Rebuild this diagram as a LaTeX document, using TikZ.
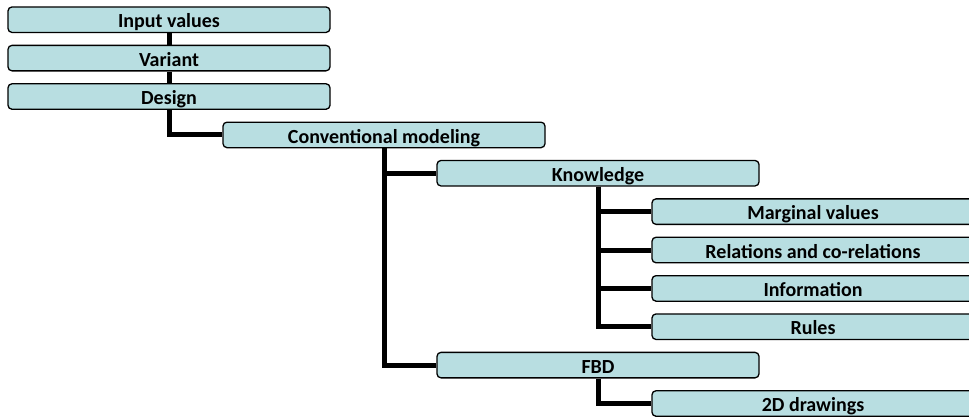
\documentclass[tikz,border=0pt]{standalone}
\usepackage{fontspec}
\setmainfont{Carlito}
\usetikzlibrary{backgrounds}
\definecolor{boxfill}{RGB}{184,222,225}
\tikzset{
  box/.style={draw=black, line width=1.3pt, fill=boxfill, rounded corners=4pt,
    minimum width=322pt, minimum height=25.5pt, inner sep=0pt,
    text height=16.5pt, text depth=0pt,
    font=\fontsize{20}{24}\selectfont\bfseries},
  link/.style={draw=black, line width=5pt}
}
\begin{document}
\begin{tikzpicture}[x=1pt,y=-1pt]
\useasboundingbox (0,0) rectangle (969,416);
\node[box] (inp)  at (169, 19.7)  {Input values};
\node[box] (var)  at (169, 58.1)  {Variant};
\node[box] (des)  at (169, 96.5)  {Design};
\node[box] (conv) at (384, 134.9) {Conventional modeling};
\node[box] (know) at (598, 173.2) {Knowledge};
\node[box] (marg) at (813, 211.6) {Marginal values};
\node[box] (rel)  at (813, 250.0) {Relations and co-relations};
\node[box] (info) at (813, 288.4) {Information};
\node[box] (rule) at (813, 326.7) {Rules};
\node[box] (fbd)  at (598, 365.1) {FBD};
\node[box] (twod) at (813, 403.5) {2D drawings};
\begin{scope}[on background layer]
\draw[link] (inp.south) -- (var.north);
\draw[link] (var.south) -- (des.north);
\draw[link] (des.south) |- (conv.west);
\draw[link] (conv.south) |- (know.west);
\draw[link] (conv.south) |- (fbd.west);
\draw[link] (know.south) |- (marg.west);
\draw[link] (know.south) |- (rel.west);
\draw[link] (know.south) |- (info.west);
\draw[link] (know.south) |- (rule.west);
\draw[link] (fbd.south) |- (twod.west);
\end{scope}
\end{tikzpicture}
\end{document}
